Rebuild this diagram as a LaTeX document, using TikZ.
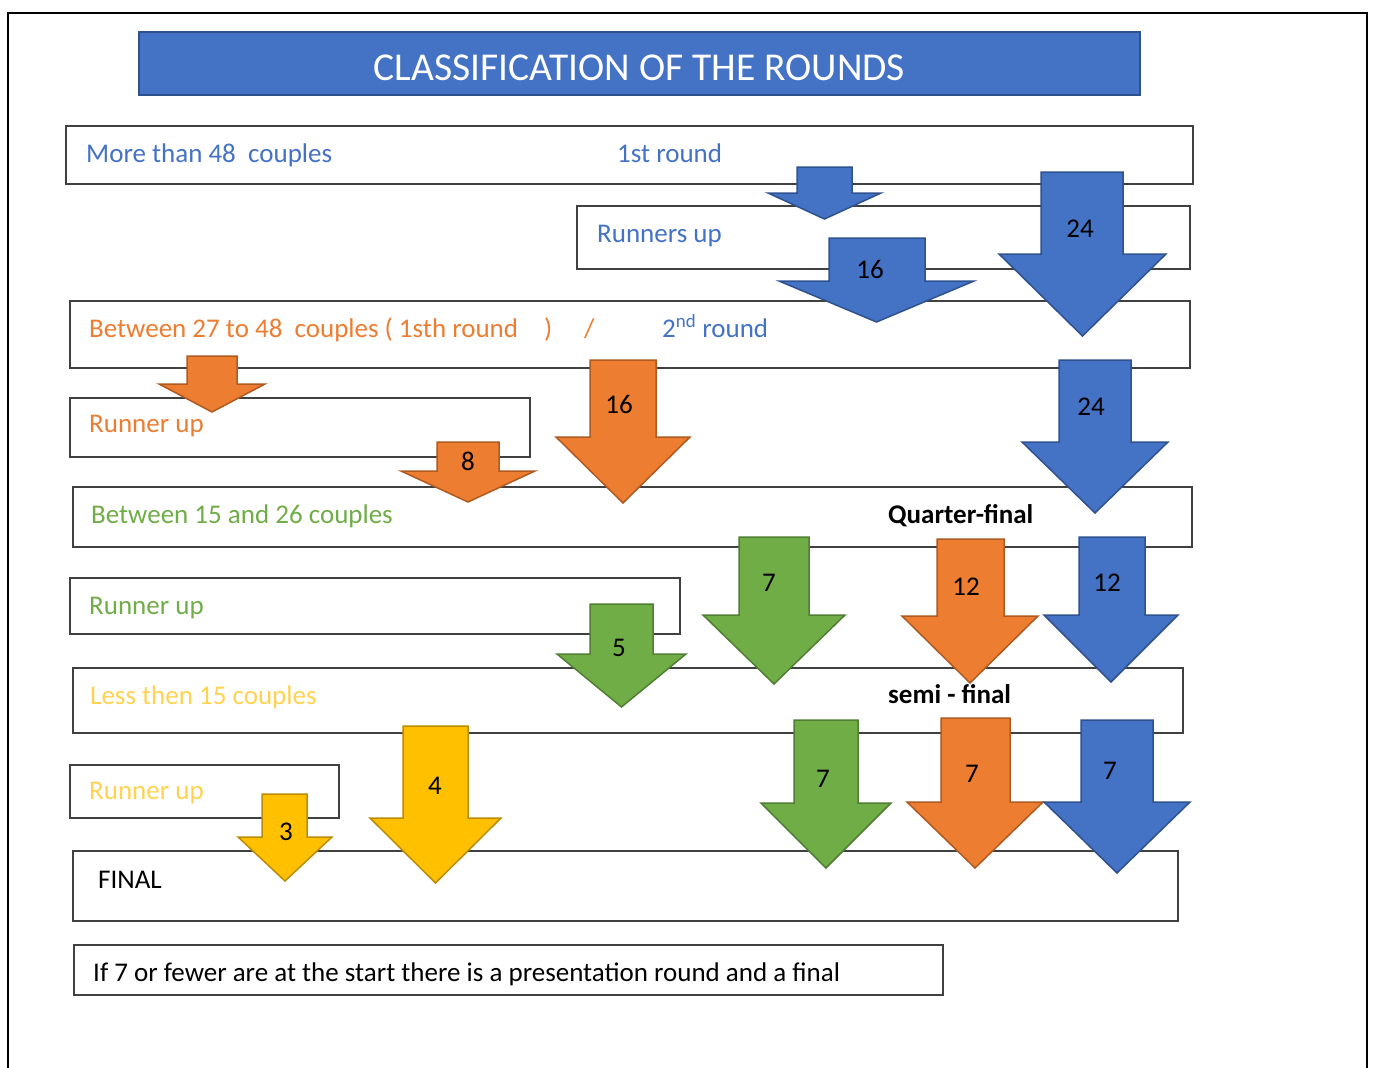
\documentclass[tikz,border=0pt]{standalone}
\usepackage{fontspec}
\setmainfont{Carlito}
\definecolor{cblue}{HTML}{4472C4}
\definecolor{cblueD}{HTML}{2F528F}
\definecolor{corange}{HTML}{ED7D31}
\definecolor{corangeD}{HTML}{AE5A21}
\definecolor{cgreen}{HTML}{70AD47}
\definecolor{cgreenD}{HTML}{507E32}
\definecolor{cyellow}{HTML}{FFC000}
\definecolor{cyellowD}{HTML}{BC8C00}
\definecolor{cyellowT}{HTML}{FFD34F}
\definecolor{cgray}{HTML}{404040}
\newcommand\rbox[5]{\node[box, minimum width={#4-#2}, minimum height={#5-#3}] (#1) at ({(#2+#4)/2},{(#3+#5)/2}) {};}
\newcommand\blockarrow[8]{\filldraw[#1] (#2,#4) -- (#3,#4) -- (#3,#5) -- (#7,#5) -- ({(#6+#7)/2},#8) -- (#6,#5) -- (#2,#5) -- cycle;}
\begin{document}
\begin{tikzpicture}[x=1pt,y=-1pt,
  box/.style={draw=cgray, line width=1.8pt, fill=none, inner sep=0pt, rectangle},
  txt/.style={anchor=base west, inner sep=0pt, font=\fontsize{27}{32}\selectfont},
  num/.style={anchor=center, inner sep=0pt, font=\fontsize{27}{32}\selectfont, text=black},
  ablue/.style={fill=cblue, draw=cblueD, line width=1.5pt},
  aorange/.style={fill=corange, draw=corangeD, line width=1.5pt},
  agreen/.style={fill=cgreen, draw=cgreenD, line width=1.5pt},
  ayellow/.style={fill=cyellow, draw=cyellowD, line width=1.5pt},
  frame/.style={draw=black, line width=2.5pt}]
\useasboundingbox[fill=white] (0,0) rectangle (1374,1068);
\draw[frame] (8,1070) -- (8,13) -- (1367,13) -- (1367,1070);
% title
\node[fill=cblue, draw=cblueD, line width=2pt, minimum width=1001pt, minimum height=63pt, inner sep=0pt] (title) at (639.5,63.5) {};
\node[anchor=base, inner sep=0pt, text=white, font=\fontsize{39.5}{46}\selectfont] (titletext) at (639.5,80) {CLASSIFICATION OF THE ROUNDS};
% boxes
\rbox{b1}{66}{126}{1193}{184}
\rbox{b2}{577}{206}{1190}{269}
\rbox{b3}{70}{301}{1190}{368}
\rbox{b4}{70}{398}{530}{457}
\rbox{b5}{73}{487}{1192}{547}
\rbox{b6}{70}{578}{680}{634}
\rbox{b7}{73}{668}{1183}{733}
\rbox{b8}{70}{765}{339}{818}
\rbox{b9}{73}{851}{1178}{921}
\rbox{b10}{74}{945}{943}{995}
% texts
\node[txt, text=cblue] (t1) at (86,162) {More than 48~ couples};
\node[txt, text=cblue] (t1r) at (617,162) {1st round};
\node[txt, text=cblue] (t2) at (597,242) {Runners up};
\node[txt, text=corange] (t3) at (89,337) {Between 27 to 48~ couples ( 1sth round};
\node[txt, text=corange] (t3p) at (544,337) {)};
\node[txt, text=corange] (t3s) at (584,337) {/};
\node[txt, text=cblue] (t3r) at (662,337) {2\textsuperscript{nd} round};
\node[txt, text=corange] (t4) at (89,432) {Runner up};
\node[txt, text=cgreen] (t5) at (91,523) {Between 15 and 26 couples};
\node[txt, text=black, font=\fontsize{27}{32}\selectfont\bfseries] (t5r) at (888,523) {Quarter-final};
\node[txt, text=cgreen] (t6) at (89,614) {Runner up};
\node[txt, text=cyellowT] (t7) at (90,704) {Less then 15 couples};
\node[txt, text=black, font=\fontsize{27}{32}\selectfont\bfseries] (t7r) at (888,703) {semi - final};
\node[txt, text=cyellowT] (t8) at (89,799) {Runner up};
\node[txt, text=black] (t9) at (98,888) {FINAL};
\node[txt, text=black] (t10) at (93,981) {If 7 or fewer are at the start there is a presentation round and a final};
% arrows
\blockarrow{ablue}{797}{852}{167}{193}{768}{881}{219}
\blockarrow{ablue}{829}{925}{238}{281}{779}{974}{322}
\blockarrow{ablue}{1041}{1123}{172}{254}{999}{1166}{336}
\blockarrow{ablue}{1059}{1131}{360}{442}{1022}{1168}{513}
\blockarrow{aorange}{187}{237}{356}{384}{159}{265}{412}
\blockarrow{aorange}{437}{499}{442}{471}{401}{535}{502}
\blockarrow{aorange}{590}{656}{360}{437}{556}{690}{503}
\blockarrow{agreen}{590}{653}{604}{654}{557}{686}{707}
\blockarrow{agreen}{739}{809}{537}{615}{703}{845}{684}
\blockarrow{aorange}{937}{1004}{539}{616}{902}{1038}{683}
\blockarrow{ablue}{1079}{1145}{537}{615}{1044}{1178}{682}
\blockarrow{agreen}{794}{858}{720}{803}{761}{891}{868}
\blockarrow{aorange}{941}{1010}{718}{802}{907}{1043}{868}
\blockarrow{ablue}{1081}{1153}{720}{802}{1044}{1190}{873}
\blockarrow{ayellow}{262}{307}{794}{837}{238}{332}{881}
\blockarrow{ayellow}{403}{468}{726}{818}{370}{501}{883}
% numbers
\node[num] (n1) at (870,269) {16};
\node[num] (n2) at (1080,229) {24};
\node[num] (n3) at (1091,407) {24};
\node[num] (n4) at (468,461) {8};
\node[num] (n5) at (619,404) {16};
\node[num] (n6) at (619,648) {5};
\node[num] (n7) at (769,583) {7};
\node[num] (n8) at (966,587) {12};
\node[num] (n9) at (1107,583) {12};
\node[num] (n10) at (823,779) {7};
\node[num] (n11) at (972,774) {7};
\node[num] (n12) at (1110,771) {7};
\node[num] (n13) at (286,832) {3};
\node[num] (n14) at (435,786) {4};
\end{tikzpicture}
\end{document}
